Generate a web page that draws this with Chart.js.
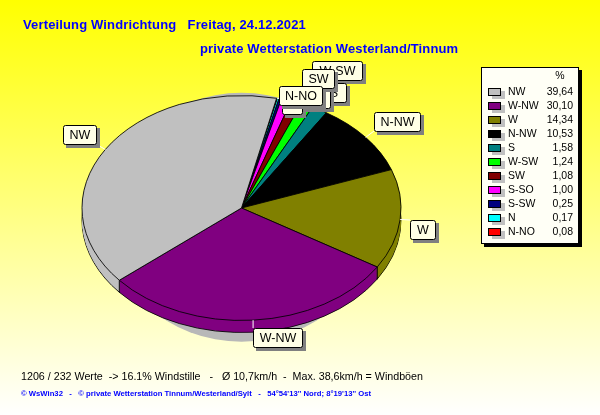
<!DOCTYPE html>
<html>
<head>
<meta charset="utf-8">
<title>Verteilung Windrichtung</title>
<script src="https://cdn.jsdelivr.net/npm/chart.js@4"></script>
<style>
  html, body { margin: 0; padding: 0; }
  body { width: 600px; height: 415px; overflow: hidden; background: linear-gradient(#ffff00, #ffffff); }
  canvas { display: block; }
</style>
</head>
<body>
<canvas id="windChart" width="600" height="415"></canvas>
<script>
// Windrichtungen, so wie in der Legende
const directions = ["NW", "W-NW", "W", "N-NW", "S", "W-SW", "SW", "S-SO", "S-SW", "N", "N-NO"];
const percents = [39.64, 30.10, 14.34, 10.53, 1.58, 1.24, 1.08, 1.00, 0.25, 0.17, 0.08];
const percentLabels = ["39,64", "30,10", "14,34", "10,53", "1,58", "1,24", "1,08", "1,00", "0,25", "0,17", "0,08"];
const colors = ["#c0c0c0", "#800080", "#808000", "#000000", "#008080", "#00ff00", "#800000", "#ff00ff", "#000080", "#00ffff", "#ff0000"];

const title1 = "Verteilung Windrichtung   Freitag, 24.12.2021";
const title2 = "private Wetterstation Westerland/Tinnum";
const infoLine = "1206 / 232 Werte  -> 16.1% Windstille   -   Ø 10,7km/h  -  Max. 38,6km/h = Windböen";
const footLine = "© WsWin32   -   © private Wetterstation Tinnum/Westerland/Sylt   -   54°54'13'' Nord; 8°19'13'' Ost";

// Kuchen wird gestaucht und bekommt einen Rand
const squash = 0.705;
const depth = 12;
const startAngle = 12.7;

// Beschriftungen: [Name, links, oben, Breite], in Zeichenreihenfolge
const calloutBoxes = [
  ["NW", 63, 125, 33],
  ["W-NW", 253, 328, 49],
  ["W", 410, 220, 25],
  ["N-NW", 374, 112, 46],
  ["W-SW", 312, 61, 50],
  ["S", 321, 83, 25],
  ["S-SO", 290, 89, 40],
  ["S-SW", 283, 87, 38],
  ["SW", 302, 69, 32],
  ["N", 282, 95, 20],
  ["N-NO", 279, 86, 43]
];

const font = "'Liberation Sans', Arial, sans-serif";

// Chart.js zeichnet im Uhrzeigersinn, das Original dagegen
const chartLabels = directions.slice().reverse();
const chartValues = percents.slice().reverse();
const chartColors = colors.slice().reverse();

function drawText(ctx, text, x, y, style, color, align, spacing) {
  ctx.font = style;
  ctx.fillStyle = color;
  ctx.textAlign = align || "left";
  ctx.textBaseline = "middle";
  ctx.letterSpacing = spacing || "0px";
  ctx.fillText(text, x, y);
  ctx.letterSpacing = "0px";
}

function squashAround(ctx, arc) {
  ctx.translate(arc.x, arc.y);
  ctx.scale(1, squash);
  ctx.translate(-arc.x, -arc.y);
}

const pie3d = {
  id: "pie3d",
  beforeDatasetsDraw(chart) {
    const ctx = chart.ctx;
    const arcs = chart.getDatasetMeta(0).data;
    const first = arcs[0];
    const r = first.outerRadius;

    // Schatten
    ctx.save();
    ctx.fillStyle = "#b8b8b8";
    ctx.beginPath();
    ctx.ellipse(first.x, first.y + 9.25, r * 0.845, r * 0.78, 0, 0, Math.PI * 2);
    ctx.fill();
    ctx.restore();

    // Rand von unten nach oben aufbauen
    for (let d = depth; d > 0; d--) {
      ctx.save();
      ctx.translate(0, d);
      squashAround(ctx, first);
      arcs.forEach(arc => {
        const keep = arc.options;
        if (d !== depth) arc.options = Object.create(keep, { borderWidth: { value: 0 } });
        arc.draw(ctx);
        arc.options = keep;
      });
      ctx.restore();
    }

    // senkrechte Kanten vorne
    ctx.strokeStyle = "#000";
    ctx.lineWidth = 1;
    arcs.forEach(arc => {
      const sy = Math.sin(arc.startAngle);
      if (sy > 0) {
        const ex = arc.x + r * Math.cos(arc.startAngle);
        const ey = arc.y + r * squash * sy;
        ctx.beginPath();
        ctx.moveTo(ex, ey);
        ctx.lineTo(ex, ey + depth);
        ctx.stroke();
      }
    });
  },
  beforeDatasetDraw(chart) {
    chart.ctx.save();
    squashAround(chart.ctx, chart.getDatasetMeta(0).data[0]);
  },
  afterDatasetDraw(chart) {
    chart.ctx.restore();
  },
  afterDraw(chart) {
    const ctx = chart.ctx;
    const arcs = chart.getDatasetMeta(0).data;

    // Titel
    drawText(ctx, title1, 23, 25.5, "bold 13px " + font, "#0000ff", "left", "0.14px");
    drawText(ctx, title2, 200, 49.5, "bold 13px " + font, "#0000ff", "left", "0.14px");

    // Beschriftungen mit Linie zum Kuchen
    calloutBoxes.forEach(([name, left, top, width]) => {
      const height = 19;
      const arc = arcs[chartLabels.indexOf(name)];
      const mid = (arc.startAngle + arc.endAngle) / 2;
      const ex = arc.x + arc.outerRadius * Math.cos(mid);
      const ey = arc.y + arc.outerRadius * squash * Math.sin(mid);
      const tx = Math.min(Math.max(ex, left), left + width);
      const ty = Math.min(Math.max(ey, top), top + height);
      ctx.strokeStyle = "#ffffff";
      ctx.lineWidth = 1;
      ctx.beginPath();
      ctx.moveTo(ex, ey);
      ctx.lineTo(tx, ty);
      ctx.stroke();

      ctx.fillStyle = "#808080";
      ctx.fillRect(left + 3, top + 3, width + 1, height + 1);
      ctx.fillStyle = "#ffffe6";
      ctx.strokeStyle = "#000";
      ctx.beginPath();
      ctx.roundRect(left + 0.5, top + 0.5, width, height, 2);
      ctx.fill();
      ctx.stroke();
      drawText(ctx, name, left + width / 2 + 0.5, top + 10.5, "12.5px " + font, "#000", "center");
    });

    // Legende
    ctx.fillStyle = "#000";
    ctx.fillRect(484, 70, 98, 177);
    ctx.fillStyle = "#fffff6";
    ctx.strokeStyle = "#000";
    ctx.lineWidth = 1;
    ctx.fillRect(481.5, 67.5, 97, 176);
    ctx.strokeRect(481.5, 67.5, 97, 176);
    drawText(ctx, "%", 560, 76, "10.5px " + font, "#000", "center");
    directions.forEach((name, i) => {
      const y = 92 + i * 14;
      ctx.fillStyle = "#c0c0c0";
      ctx.fillRect(492, y - 1, 13, 8);
      ctx.fillStyle = colors[i];
      ctx.fillRect(488.5, y - 3.5, 12, 7);
      ctx.strokeStyle = "#000";
      ctx.strokeRect(488.5, y - 3.5, 12, 7);
      drawText(ctx, name, 508, y, "10.5px " + font, "#000");
      drawText(ctx, percentLabels[i], 573, y, "10.5px " + font, "#000", "right");
    });

    // Fusszeilen
    drawText(ctx, infoLine, 21, 377, "10.7px " + font, "#000");
    drawText(ctx, footLine, 21, 394, "bold 7.7px " + font, "#0000ff");
  }
};

new Chart(document.getElementById("windChart"), {
  type: "pie",
  data: {
    labels: chartLabels,
    datasets: [{
      data: chartValues,
      backgroundColor: chartColors,
      borderColor: "#000000",
      borderWidth: 1
    }]
  },
  options: {
    responsive: false,
    animation: false,
    rotation: startAngle,
    layout: { padding: { left: 81, right: 198, top: 48, bottom: 47 } },
    plugins: { legend: { display: false }, tooltip: { enabled: false } }
  },
  plugins: [pie3d]
});
</script>
</body>
</html>
